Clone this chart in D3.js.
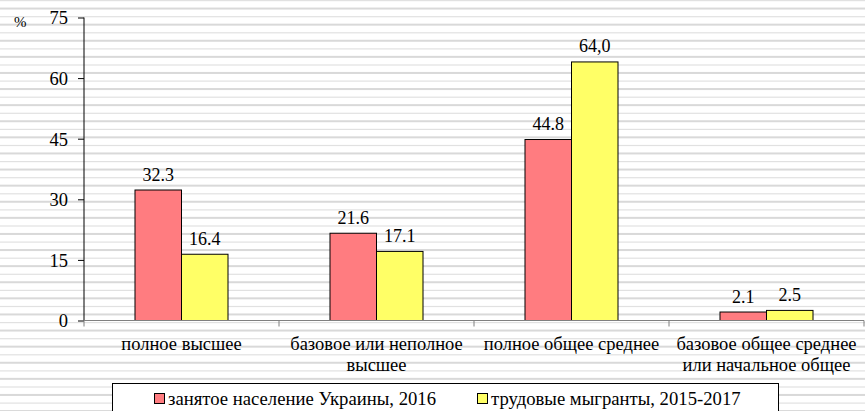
<!DOCTYPE html>
<html><head><meta charset="utf-8">
<script src="https://cdn.jsdelivr.net/npm/d3@7"></script>
<style>body{margin:0;background:#fff}svg{display:block}</style>
</head><body><svg id="c" width="865" height="411"></svg>
<script>
const categories = [["полное высшее"], ["базовое или неполное","высшее"], ["полное общее среднее"], ["базовое общее среднее","или начальное общее"]];
const seriesNames = ["занятое население Украины, 2016", "трудовые мыгранты, 2015-2017"];
const employed = [32.3, 21.6, 44.8, 2.1];
const migrants = [16.4, 17.1, 64.0, 2.5];
const employedLabels = ["32.3", "21.6", "44.8", "2.1"];
const migrantLabels = ["16.4", "17.1", "64,0", "2.5"];
const yTicks = [0, 15, 30, 45, 60, 75];
const colors = ["#ff7c80", "#ffff66"];
const FONT = "'Liberation Serif', Tinos, 'Times New Roman', 'DejaVu Serif', serif";

const svg = d3.select("#c");
const W = 865, H = 411;
const stripeG = svg.append("g");
d3.range(0, H + 8, 8.05).forEach((y, i) => {
  stripeG.append("rect").attr("x", 0).attr("width", W)
    .attr("y", i % 2 ? y - 0.5 : y).attr("height", i % 2 ? 2 : 1.2)
    .attr("fill", i % 2 ? "#d9d9d9" : "#e1e1e1");
});

const x0 = d3.scaleBand().domain(d3.range(categories.length)).range([84, 864]).padding(0);
const bw = x0.bandwidth();
const groupW = bw * 0.477;
const x1 = d3.scaleBand().domain([0, 1]).range([(bw - groupW) / 2, (bw + groupW) / 2]).padding(0);
const y = d3.scaleLinear().domain([0, 75]).range([320.5, 17.5]);

const data = categories.map((c, i) => ({i, vals: [employed[i], migrants[i]], labs: [employedLabels[i], migrantLabels[i]]}));

function txt(sel, size) { return sel.style("font-family", FONT).style("font-size", size + "px").attr("fill", "#000"); }

const g = svg.append("g");
data.forEach(d => {
  d.vals.forEach((v, s) => {
    const bx = x0(d.i) + x1(s);
    g.append("rect").attr("x", bx).attr("y", y(v)).attr("width", x1.bandwidth()).attr("height", y(0) - y(v))
      .attr("fill", colors[s]).attr("stroke", "#000").attr("stroke-width", 1);
    txt(g.append("text"), 18).attr("x", bx + x1.bandwidth() / 2).attr("y", y(v) - 9.5)
      .attr("text-anchor", "middle").text(d.labs[s]);
  });
});

const yAxis = d3.axisLeft(y).tickValues(yTicks).tickSize(6).tickPadding(10).tickFormat(d3.format("d"));
const yg = svg.append("g").attr("transform", "translate(84,0)").call(yAxis);
yg.select(".domain").attr("stroke", "#000").attr("d", `M0,${y(75)}V${y(0)}`);
yg.selectAll(".tick line").attr("stroke", "#000");
txt(yg.selectAll(".tick text"), 18.5).attr("dy", "0.35em");

const xg = svg.append("g").attr("transform", `translate(0,${y(0)})`);
xg.append("line").attr("x1", 84).attr("x2", 864).attr("y1", 0).attr("y2", 0).attr("stroke", "#808080");
const bounds = d3.range(categories.length + 1).map(i => i < categories.length ? x0(i) : x0(i - 1) + bw);
xg.selectAll(".xt").data(bounds).join("line").attr("x1", d => d).attr("x2", d => d).attr("y1", 0).attr("y2", 6).attr("stroke", "#808080");

categories.forEach((c, i) => {
  const t = txt(svg.append("text"), 18.5).attr("text-anchor", "middle")
    .attr("x", x0(i) + bw / 2).attr("y", 350);
  c.forEach((line, k) => t.append("tspan").attr("x", x0(i) + bw / 2).attr("dy", k ? 20.5 : 0).text(line));
});

txt(svg.append("text"), 15).attr("x", 14).attr("y", 27).text("%");

svg.append("rect").attr("x", 112.5).attr("y", 383.5).attr("width", 666).attr("height", 40).attr("fill", "#fff").attr("stroke", "#000");
const legX = [154, 477];
seriesNames.forEach((n, s) => {
  svg.append("rect").attr("x", legX[s] + 0.5).attr("y", 393.5).attr("width", 10).attr("height", 10)
    .attr("fill", colors[s]).attr("stroke", "#000");
  txt(svg.append("text"), 18.7).attr("x", legX[s] + 14).attr("y", 404.5).text(n);
});
</script></body></html>
